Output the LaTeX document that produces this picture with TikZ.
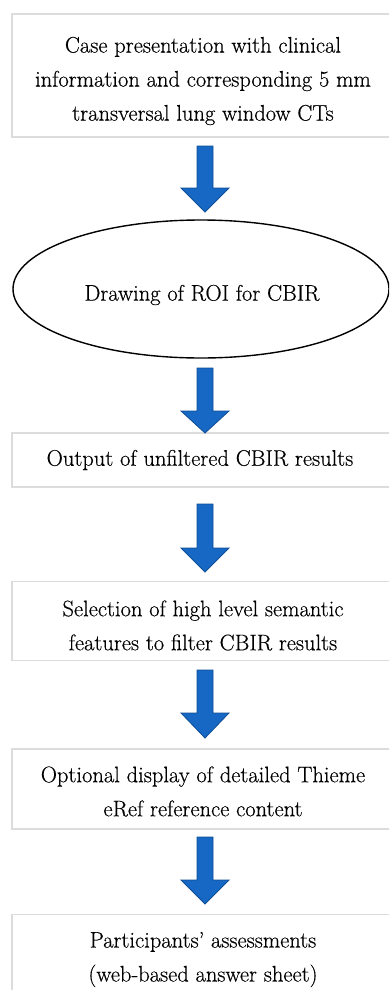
\documentclass[tikz,border=0pt]{standalone}
\usepackage{fontspec}
\newfontfamily\flowfont{Latin Modern Roman}[FakeBold=0.4,Ligatures=TeX]
\usetikzlibrary{shapes.geometric,calc}
\definecolor{boxline}{RGB}{220,220,220}
\definecolor{arrowfill}{RGB}{22,104,196}
\definecolor{arrowline}{RGB}{16,78,150}
\tikzset{
  flowbox/.style={draw=boxline, line width=1.2pt, fill=white, rectangle, inner sep=0pt},
  roibox/.style={draw=black, line width=1.4pt, ellipse, inner sep=0pt},
  flowtext/.style={align=center, inner sep=0pt, text=black,
    font=\flowfont\fontsize{22.5}{34}\selectfont},
  blockarrow/.style={fill=arrowfill, draw=arrowline, line width=0.8pt, line join=miter}
}
\newcommand{\bluearrow}[4]{% x, top, headstart, tip
  \draw[blockarrow] (#1-8,#2) -- (#1+8,#2) -- (#1+8,#3) -- (#1+24,#3) -- (#1,#4)
     -- (#1-24,#3) -- (#1-8,#3) -- cycle;}
\begin{document}
\begin{tikzpicture}[x=1pt,y=-1pt]
\useasboundingbox (0,0) rectangle (389,990);
\clip (0,0) rectangle (389,990);
% boxes
\node[flowbox, minimum width=382, minimum height=123] (b1) at (203,75.5) {};
\node[roibox, minimum width=376, minimum height=138] (e2) at (201,289) {};
\node[flowbox, minimum width=382, minimum height=54] (b3) at (203,460) {};
\node[flowbox, minimum width=382, minimum height=79] (b4) at (203,621) {};
\node[flowbox, minimum width=382, minimum height=80] (b5) at (203,789) {};
\node[flowbox, minimum width=382, minimum height=120, anchor=north] (b6) at (203,914) {};
% texts
\node[flowtext] (t1) at (203,81)
  {Case presentation with clinical\\information and corresponding 5 mm\\transversal lung window CTs};
\node[flowtext] (t2) at (202,295) {Drawing of ROI for CBIR};
\node[flowtext] (t3) at (200,460) {Output of unfiltered CBIR results};
\node[flowtext] (t4) at (203,625.5)
  {Selection of high level semantic\\features to filter CBIR results};
\node[flowtext] (t5) at (203,791.5)
  {Optional display of detailed Thieme\\eRef reference content};
\node[flowtext] (t6) at (203,959.5)
  {Participants’ assessments\\(web-based answer sheet)};
% arrows
\bluearrow{205}{146}{188}{212}
\bluearrow{205}{368}{411}{433}
\bluearrow{205}{504}{548}{572}
\bluearrow{205}{670}{713}{738}
\bluearrow{205}{837}{880}{904}
\end{tikzpicture}
\end{document}
